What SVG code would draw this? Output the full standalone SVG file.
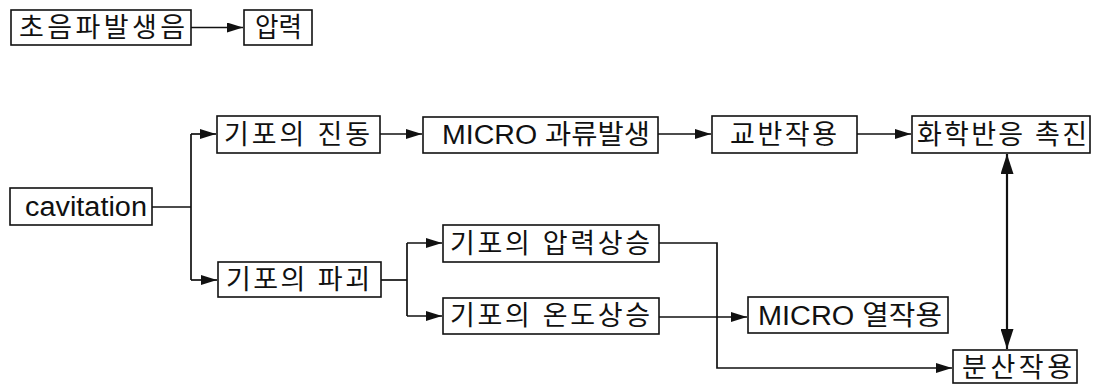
<svg xmlns="http://www.w3.org/2000/svg" width="1096" height="384" viewBox="0 0 1096 384">
<style>
.box{fill:#fff;stroke:#111;stroke-width:1.6}
.t{font-family:"Liberation Sans","Noto Sans CJK KR",sans-serif;font-size:27px;fill:#111}
.c{fill:none;stroke:#111;stroke-width:1.7}
</style>
<defs>
<marker id="ah" markerUnits="userSpaceOnUse" markerWidth="17" markerHeight="11" refX="16" refY="5" orient="auto-start-reverse">
<path d="M0,0 L16,5 L0,10 z" fill="#111"/>
</marker>
<marker id="av" markerUnits="userSpaceOnUse" markerWidth="21" markerHeight="13" refX="20" refY="6.5" orient="auto-start-reverse">
<path d="M0,0 L20,6.5 L0,13 z" fill="#111"/>
</marker>
</defs>
<rect width="1096" height="384" fill="#fff"/>
<g id="connectors">
<path class="c" d="M191,27.5 H243" marker-end="url(#ah)"/>
<path class="c" d="M152,207 H191"/>
<path class="c" d="M191,134 V280"/>
<path class="c" d="M191,134 H216" marker-end="url(#ah)"/>
<path class="c" d="M191,280 H217" marker-end="url(#ah)"/>
<path class="c" d="M380,134 H422" marker-end="url(#ah)"/>
<path class="c" d="M658,134 H711" marker-end="url(#ah)"/>
<path class="c" d="M857,134 H911" marker-end="url(#ah)"/>
<path class="c" d="M381,280 H407"/>
<path class="c" d="M407,243 V316"/>
<path class="c" d="M407,243 H442" marker-end="url(#ah)"/>
<path class="c" d="M407,316 H442" marker-end="url(#ah)"/>
<path class="c" d="M659,243 H717 V368 H952" marker-end="url(#ah)"/>
<path class="c" d="M659,317 H747" marker-end="url(#ah)"/>
<path class="c" style="stroke-width:2.2" d="M1007,154 V349" marker-start="url(#av)" marker-end="url(#av)"/>
</g>
<g id="n-chopa"><rect class="box" x="11" y="10" width="180" height="35"/><text class="t" x="19" y="37" textLength="166" lengthAdjust="spacing">초음파발생음</text></g>
<g id="n-apryeok"><rect class="box" x="244" y="10" width="68" height="35"/><text class="t" x="255" y="37" textLength="47" lengthAdjust="spacingAndGlyphs">압력</text></g>
<g id="n-cavitation"><rect class="box" x="10" y="188" width="142" height="37"/><text class="t" x="25" y="216" textLength="122" lengthAdjust="spacingAndGlyphs">cavitation</text></g>
<g id="n-jindong"><rect class="box" x="217" y="116" width="163" height="37"/><text class="t" x="224" y="144" textLength="146" lengthAdjust="spacing">기포의 진동</text></g>
<g id="n-gwaryu"><rect class="box" x="423" y="117" width="235" height="36"/><text class="t" x="442" y="144" textLength="208" lengthAdjust="spacingAndGlyphs">MICRO 과류발생</text></g>
<g id="n-gyoban"><rect class="box" x="712" y="116" width="145" height="37"/><text class="t" x="730" y="144" textLength="107" lengthAdjust="spacing">교반작용</text></g>
<g id="n-hwahak"><rect class="box" x="912" y="116" width="178" height="37"/><text class="t" x="917" y="144" textLength="170" lengthAdjust="spacing">화학반응 촉진</text></g>
<g id="n-pagoe"><rect class="box" x="218" y="262" width="163" height="35"/><text class="t" x="226" y="289" textLength="144" lengthAdjust="spacing">기포의 파괴</text></g>
<g id="n-apryeoksang"><rect class="box" x="443" y="225" width="216" height="37"/><text class="t" x="450" y="253" textLength="200" lengthAdjust="spacing">기포의 압력상승</text></g>
<g id="n-ondosang"><rect class="box" x="443" y="298" width="216" height="36"/><text class="t" x="450" y="325" textLength="200" lengthAdjust="spacing">기포의 온도상승</text></g>
<g id="n-yeol"><rect class="box" x="748" y="297" width="200" height="36"/><text class="t" x="758" y="325" textLength="184" lengthAdjust="spacingAndGlyphs">MICRO 열작용</text></g>
<g id="n-bunsan"><rect class="box" x="953" y="350" width="124" height="33"/><text class="t" x="962" y="377" textLength="110" lengthAdjust="spacing">분산작용</text></g>
</svg>
